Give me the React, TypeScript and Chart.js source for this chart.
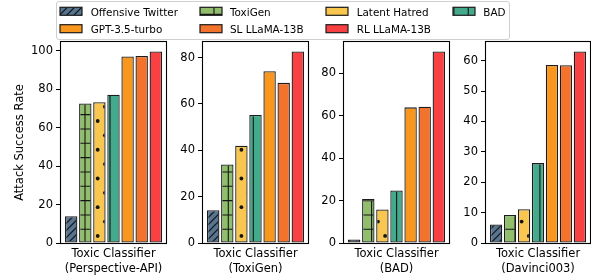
import React, { useEffect, useRef } from "react";
import { Chart, registerables } from "chart.js";
Chart.register(...registerables);

// ---------- data ----------
const seriesNames = ["Offensive Twitter", "ToxiGen", "Latent Hatred", "BAD", "GPT-3.5-turbo", "SL LLaMA-13B", "RL LLaMA-13B"];
const seriesColors = ["#577590", "#90be6d", "#f9c74f", "#43aa8b", "#f8961e", "#f3722c", "#f94144"];
const seriesHatches = ["/", "+", ".", "|", "", "", ""];

const classifierLabels = [
  ["Toxic Classifier", "(Perspective-API)"],
  ["Toxic Classifier", "(ToxiGen)"],
  ["Toxic Classifier", "(BAD)"],
  ["Toxic Classifier", "(Davinci003)"],
];
const perspectiveValues = [13.9, 72.6, 73.2, 77.1, 97.0, 97.3, 99.6];
const toxigenValues = [14.1, 33.9, 42.0, 55.2, 74.1, 69.1, 82.6];
const badValues = [1.7, 20.7, 15.8, 24.8, 64.0, 64.3, 90.3];
const davinciValues = [6.1, 9.2, 11.1, 26.3, 58.6, 58.5, 63.0];

const perspectiveTicks = [0, 20, 40, 60, 80, 100];
const toxigenTicks = [0, 20, 40, 60, 80];
const badTicks = [0, 20, 40, 60, 80];
const davinciTicks = [0, 10, 20, 30, 40, 50, 60];

const yAxisTitle = "Attack Success Rate";

// ---------- layout ----------
const W = 591;
const H = 280;
const FONT = "DejaVu Sans";
const FS = 11.5;
const LEG_FS = 10.4;
const PLOT_TOP = 42;
const PLOT_BOTTOM = 243;
const panels = [
  { values: perspectiveValues, ticks: perspectiveTicks, label: classifierLabels[0], left: 61, right: 166, title: true },
  { values: toxigenValues, ticks: toxigenTicks, label: classifierLabels[1], left: 203, right: 308, title: false },
  { values: badValues, ticks: badTicks, label: classifierLabels[2], left: 344, right: 449, title: false },
  { values: davinciValues, ticks: davinciTicks, label: classifierLabels[3], left: 486, right: 590, title: false },
];

// hatch source canvases in figure coordinates
function makeHatchCanvas(color: string, hatch: string): HTMLCanvasElement {
  const c = document.createElement("canvas");
  c.width = W;
  c.height = H;
  const g = c.getContext("2d")!;
  g.fillStyle = color;
  g.fillRect(0, 0, W, H);
  g.strokeStyle = "#151515";
  g.fillStyle = "#151515";
  g.lineWidth = 1.1;
  const p = 14.33;
  if (hatch === "/") {
    const s = p / 2;
    for (let k = -2; k * s < W + H + s; k++) {
      const c0 = 3 + k * s;
      g.beginPath();
      g.moveTo(c0, 0);
      g.lineTo(c0 - H, H);
      g.stroke();
    }
  } else if (hatch === "+") {
    for (let k = -10; k < 50; k++) {
      const x = 85 + k * p;
      g.beginPath();
      g.moveTo(x, 0);
      g.lineTo(x, H);
      g.stroke();
      const y = 229.3 + (k - 20) * p;
      g.beginPath();
      g.moveTo(0, y);
      g.lineTo(W, y);
      g.stroke();
    }
  } else if (hatch === ".") {
    const q = 14.37;
    for (let i = -10; i < 50; i++) {
      for (let j = -10; j < 20; j++) {
        const ax = 97.7 + i * q;
        const ay = 121 + 2 * j * q;
        g.beginPath();
        g.arc(ax, ay, 1.9, 0, Math.PI * 2);
        g.fill();
        g.beginPath();
        g.arc(ax + q / 2, ay + q, 1.9, 0, Math.PI * 2);
        g.fill();
      }
    }
  } else if (hatch === "|") {
    for (let k = -10; k < 50; k++) {
      const x = 110 + k * p;
      g.beginPath();
      g.moveTo(x, 0);
      g.lineTo(x, H);
      g.stroke();
    }
  }
  return c;
}

const framePlugin = {
  id: "frame",
  afterDatasetsDraw(chart: any) {
    const { ctx, chartArea: a } = chart;
    ctx.save();
    ctx.strokeStyle = "#000";
    ctx.lineWidth = 1.1;
    const l = Math.round(a.left) - 0.5;
    const t = Math.round(a.top) - 0.5;
    const r = Math.round(a.right) + 0.5;
    const b = Math.round(a.bottom) + 0.5;
    ctx.strokeRect(l, t, r - l, b - t);
    ctx.restore();
  },
};

const legendCols = [
  { sw: 60, tx: 90.7 },
  { sw: 200, tx: 230 },
  { sw: 326, tx: 356.7 },
  { sw: 453, tx: 483.3 },
];
const legendRows = [
  { swTop: 7.3, center: 11 },
  { swTop: 24.7, center: 28.4 },
];

export default function App() {
  const refs = useRef<(HTMLCanvasElement | null)[]>([]);
  const legendRef = useRef<HTMLCanvasElement | null>(null);

  useEffect(() => {
    const sources = seriesColors.map((c, i) => makeHatchCanvas(c, seriesHatches[i]));
    const charts: Chart[] = [];
    panels.forEach((pn, pi) => {
      const cv = refs.current[pi];
      if (!cv) return;
      const ctx = cv.getContext("2d")!;
      const fills = sources.map((s) => ctx.createPattern(s, "no-repeat")!);
      const padL = pn.title ? 13 : pn.left - 40;
      const yMax = Math.max(...pn.values) * 1.05;
      const chart = new Chart(ctx, {
        type: "bar",
        data: {
          labels: [pn.label],
          datasets: seriesNames.map((name, i) => ({
            label: name,
            data: [pn.values[i]],
            backgroundColor: fills[i],
            borderColor: "#1c1c1c",
            borderWidth: 1.3,
            borderSkipped: false,
            categoryPercentage: 0.94,
            barPercentage: 0.88,
          })),
        },
        options: {
          responsive: false,
          animation: false,
          devicePixelRatio: 1,
          events: [],
          layout: { padding: { left: padL, right: W - pn.right, top: PLOT_TOP, bottom: 0 } },
          plugins: { legend: { display: false }, tooltip: { enabled: false } },
          scales: {
            x: {
              grid: { display: false, drawTicks: false, tickLength: 0 },
              border: { display: false },
              ticks: { color: "#000", font: { family: FONT, size: FS, lineHeight: 1.28 }, padding: 4, maxRotation: 0 },
              afterFit: (s: any) => {
                s.height = H - PLOT_BOTTOM;
              },
            },
            y: {
              min: 0,
              max: yMax,
              grid: { display: true, drawOnChartArea: false, drawTicks: true, tickLength: 5, color: "#000", lineWidth: 1 },
              border: { display: false },
              ticks: { color: "#000", font: { family: FONT, size: FS }, padding: 3 },
              title: {
                display: pn.title,
                text: yAxisTitle,
                color: "#000",
                font: { family: FONT, size: FS },
                padding: 0,
              },
              afterBuildTicks: (s: any) => {
                s.ticks = pn.ticks.map((v) => ({ value: v }));
              },
              afterFit: (s: any) => {
                s.width = pn.left - padL;
              },
            },
          },
        },
        plugins: [framePlugin],
      } as any);
      charts.push(chart);
    });

    // legend swatches
    const lc = legendRef.current;
    if (lc) {
      const g = lc.getContext("2d")!;
      g.clearRect(0, 0, W, 42);
      seriesNames.forEach((_, i) => {
        const col = legendCols[i % 4];
        const row = legendRows[Math.floor(i / 4)];
        const pat = g.createPattern(sources[i], "no-repeat")!;
        g.fillStyle = pat;
        g.fillRect(col.sw, row.swTop, 22, 8);
        g.strokeStyle = "#1c1c1c";
        g.lineWidth = 1.2;
        g.strokeRect(col.sw, row.swTop, 22, 8);
      });
    }
    return () => charts.forEach((c) => c.destroy());
  }, []);

  return (
    <div style={{ position: "absolute", left: 0, top: 0, width: W, height: H, background: "#fff", overflow: "hidden" }}>
      {panels.map((_, i) => (
        <canvas
          key={i}
          ref={(el) => {
            refs.current[i] = el;
          }}
          width={W}
          height={H}
          style={{ position: "absolute", left: 0, top: 0, width: W, height: H }}
        />
      ))}
      <div
        style={{
          position: "absolute",
          left: 56,
          top: 1,
          width: 454,
          height: 39,
          boxSizing: "border-box",
          border: "1px solid #cfcfcf",
          borderRadius: 3,
          background: "rgba(255,255,255,0.85)",
        }}
      />
      <canvas ref={legendRef} width={W} height={42} style={{ position: "absolute", left: 0, top: 0, width: W, height: 42 }} />
      {seriesNames.map((name, i) => {
        const col = legendCols[i % 4];
        const row = legendRows[Math.floor(i / 4)];
        return (
          <span
            key={name}
            style={{
              position: "absolute",
              left: col.tx,
              top: row.center - 6.5,
              fontFamily: FONT,
              fontSize: LEG_FS,
              lineHeight: "14px",
              color: "#000",
              whiteSpace: "nowrap",
            }}
          >
            {name}
          </span>
        );
      })}
    </div>
  );
}
